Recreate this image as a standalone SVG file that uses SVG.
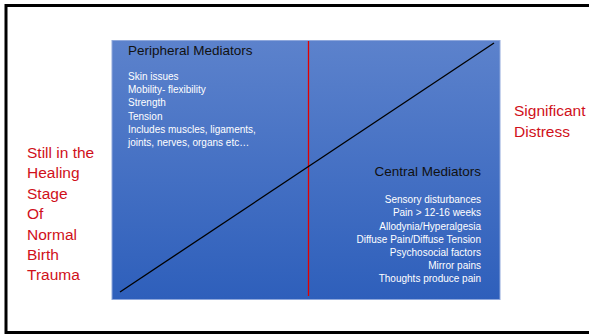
<svg xmlns="http://www.w3.org/2000/svg" width="589" height="335" viewBox="0 0 589 335">
  <defs>
    <linearGradient id="panelFill" x1="0" y1="0" x2="0" y2="1">
      <stop offset="0" stop-color="#5c82cc"/>
      <stop offset="1" stop-color="#2e5fbb"/>
    </linearGradient>
    <style>
      text { font-family: "Liberation Sans", Arial, sans-serif; }
      .head { font-size: 13.5px; fill: #111111; }
      .item { font-size: 10px; fill: #ffffff; }
      .right { text-anchor: end; }
      .note { font-size: 15.5px; fill: #d0101a; }
    </style>
  </defs>

  <rect x="0" y="0" width="589" height="335" fill="#ffffff"/>
  <!-- outer frame -->
  <rect x="6" y="5.5" width="590" height="327" fill="none" stroke="#000000" stroke-width="3"/>

  <!-- panel -->
  <g id="panel">
    <rect x="112" y="40.5" width="388" height="259" fill="url(#panelFill)" stroke="#8fa8dc" stroke-width="1"/>
  </g>

  <g id="connectors">
    <line x1="308.5" y1="41" x2="308.5" y2="296" stroke="#e00000" stroke-width="1.3"/>
    <line x1="120" y1="292" x2="494" y2="43" stroke="#000000" stroke-width="1.3"/>
  </g>

  <g id="peripheral">
    <text class="head" x="128" y="54.5">Peripheral Mediators</text>
    <text class="item" x="128" y="80">Skin issues</text>
    <text class="item" x="128" y="93">Mobility- flexibility</text>
    <text class="item" x="128" y="106">Strength</text>
    <text class="item" x="128" y="119.5">Tension</text>
    <text class="item" x="128" y="133">Includes muscles, ligaments,</text>
    <text class="item" x="128" y="146">joints, nerves, organs etc…</text>
  </g>

  <g id="central">
    <text class="head right" x="481" y="176">Central Mediators</text>
    <text class="item right" x="481" y="203">Sensory disturbances</text>
    <text class="item right" x="481" y="216">Pain &gt; 12-16 weeks</text>
    <text class="item right" x="481" y="229.5">Allodynia/Hyperalgesia</text>
    <text class="item right" x="481" y="242.5">Diffuse Pain/Diffuse Tension</text>
    <text class="item right" x="481" y="256">Psychosocial factors</text>
    <text class="item right" x="481" y="269">Mirror pains</text>
    <text class="item right" x="481" y="282">Thoughts produce pain</text>
  </g>

  <g id="healing">
    <text class="note" x="27" y="158">Still in the</text>
    <text class="note" x="27" y="178">Healing</text>
    <text class="note" x="27" y="198.5">Stage</text>
    <text class="note" x="27" y="219">Of</text>
    <text class="note" x="27" y="239.5">Normal</text>
    <text class="note" x="27" y="260">Birth</text>
    <text class="note" x="27" y="280">Trauma</text>
  </g>

  <g id="distress">
    <text class="note" x="514" y="116">Significant</text>
    <text class="note" x="514" y="137">Distress</text>
  </g>
</svg>
